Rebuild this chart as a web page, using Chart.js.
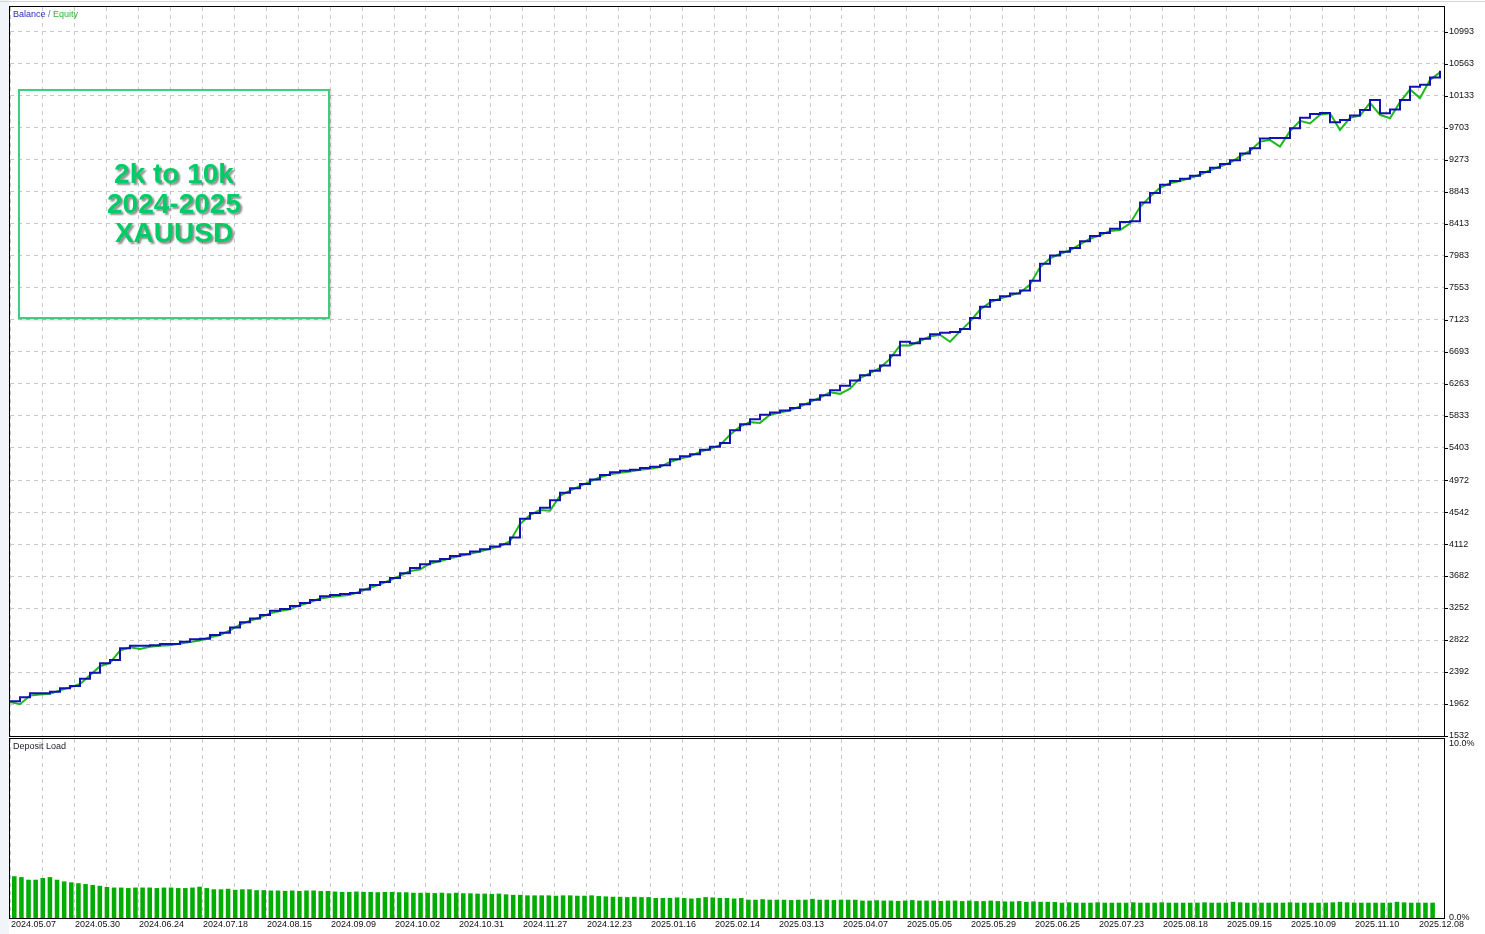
<!DOCTYPE html>
<html><head><meta charset="utf-8">
<script src="https://cdn.jsdelivr.net/npm/chart.js@4.4.1/dist/chart.umd.min.js"></script>
<style>
html,body{margin:0;padding:0;background:#fff;width:1485px;height:934px;overflow:hidden;font-family:"Liberation Sans",Arial,sans-serif;}
canvas{position:absolute;left:0;}
#c1{top:0;}
#c2{top:738px;}
.strip{position:absolute;left:0;top:0;width:9px;height:934px;background:#f1f4f8;}
.topline{position:absolute;left:0;top:1px;width:1485px;height:1px;background:#d4d4d4;}
.lbl{position:absolute;font-size:9px;line-height:11px;white-space:nowrap;}
#box{position:absolute;left:18px;top:89px;width:308px;height:226px;border:2px solid #3ccf80;box-shadow:1px 1px 2px rgba(0,0,0,.2);}
.t{position:absolute;left:0;width:100%;text-align:center;font:bold 28px "Liberation Sans",Arial,sans-serif;color:#00cc66;text-shadow:2px 2px 2px rgba(0,0,0,.45);line-height:29px;white-space:nowrap;}
</style></head>
<body>
<div class="strip"></div>
<div class="topline"></div>
<canvas id="c1" width="1485" height="738" style="width:1485px;height:738px"></canvas>
<canvas id="c2" width="1485" height="196" style="width:1485px;height:196px"></canvas>
<div class="lbl" style="left:13px;top:9px;"><span style="color:#2b2bc4">Balance</span><span style="color:#6a6a9a"> / </span><span style="color:#2cb42c">Equity</span></div>
<div class="lbl" style="left:13px;top:741px;color:#1a1a2e;">Deposit Load</div>
<div id="box">
  <div class="t" style="top:68px;">2k to 10k</div>
  <div class="t" style="top:98px;">2024-2025</div>
  <div class="t" style="top:127px;">XAUUSD</div>
</div>
<script>
const dateLabels = ['2024.05.07','2024.05.30','2024.06.24','2024.07.18','2024.08.15','2024.09.09','2024.10.02','2024.10.31','2024.11.27','2024.12.23','2025.01.16','2025.02.14','2025.03.13','2025.04.07','2025.05.05','2025.05.29','2025.06.25','2025.07.23','2025.08.18','2025.09.15','2025.10.09','2025.11.10','2025.12.08'];
const balanceTicks = [1532,1962,2392,2822,3252,3682,4112,4542,4972,5403,5833,6263,6693,7123,7553,7983,8413,8843,9273,9703,10133,10563,10993];
const loadTicks = [0, 10];

const balance = [
2000,2052,2106,2106,2127,2173,2204,2300,2383,2509,
2553,2711,2746,2746,2750,2768,2768,2799,2832,2840,
2889,2920,2990,3060,3110,3158,3216,3240,3279,3320,
3360,3410,3427,3440,3454,3500,3560,3600,3655,3720,
3790,3840,3880,3910,3950,3975,4010,4040,4080,4110,
4200,4450,4530,4600,4700,4800,4860,4920,4980,5040,
5075,5095,5110,5135,5150,5170,5250,5290,5320,5380,
5420,5470,5640,5720,5790,5850,5880,5905,5940,5990,
6050,6110,6180,6240,6310,6380,6440,6510,6650,6830,
6810,6870,6930,6950,6960,7000,7150,7300,7390,7440,
7480,7520,7650,7880,7990,8040,8090,8180,8250,8290,
8350,8440,8450,8700,8830,8940,8990,9020,9060,9110,
9170,9220,9270,9360,9430,9560,9570,9570,9700,9840,
9890,9905,9780,9810,9870,9945,10079,9900,9950,10079,
10258,10285,10380,10473];

const equity = [
1990,1960,2075,2090,2100,2145,2185,2230,2350,2470,
2515,2680,2725,2700,2730,2745,2750,2775,2795,2815,
2860,2890,2950,3030,3080,3125,3180,3210,3235,3290,
3330,3380,3400,3415,3430,3470,3525,3570,3625,3685,
3750,3770,3850,3880,3920,3950,3980,4010,4050,4080,
4150,4380,4500,4570,4560,4760,4830,4890,4950,5010,
5050,5070,5085,5110,5125,5145,5215,5260,5290,5350,
5390,5440,5580,5690,5750,5740,5850,5880,5910,5960,
6020,6080,6150,6130,6200,6340,6410,6480,6600,6780,
6780,6840,6900,6925,6830,6970,7100,7260,7360,7410,
7450,7490,7600,7830,7950,8010,8060,8140,8215,8260,
8320,8330,8420,8640,8780,8900,8960,8990,9030,9075,
9135,9185,9235,9320,9395,9520,9540,9452,9660,9800,
9764,9880,9900,9676,9840,9870,10040,9880,9833,10050,
10220,10105,10350,10450];

const depositLoad = [
2.4,2.35,2.2,2.2,2.3,2.35,2.2,2.1,2.05,2.0,1.95,1.9,1.85,1.78,
1.75,1.75,1.72,1.75,1.75,1.75,1.72,1.75,1.75,1.72,1.72,1.75,1.8,1.72,
1.65,1.65,1.68,1.62,1.65,1.65,1.6,1.6,
1.58,1.58,1.56,1.58,1.55,1.58,1.58,1.55,1.55,1.52,
1.5,1.5,1.52,1.5,1.5,1.48,1.5,1.5,1.48,1.48,
1.45,1.45,1.45,1.43,1.45,1.42,1.45,1.42,1.42,
1.4,1.4,1.38,1.4,1.36,
1.33,1.33,1.3,1.3,1.3,1.3,1.28,1.3,1.3,1.28,1.28,1.3,1.26,
1.24,1.22,1.22,1.2,1.22,1.2,1.2,
1.15,1.15,1.15,1.18,1.15,1.12,1.15,1.2,1.18,1.15,1.15,1.12,1.15,
1.05,1.05,1.08,1.05,1.05,1.05,1.03,1.05,1.05,1.1,1.05,1.05,1.03,1.05,1.05,1.05,
1.0,1.0,1.02,1.0,1.0,0.98,1.0,1.03,1.0,1.0,1.0,0.98,1.0,1.0,0.97,1.0,0.97,0.97,1.0,0.97,
0.95,0.95,0.97,0.93,0.95,0.93,0.93,0.92,
0.88,0.9,0.88,0.88,0.88,0.9,0.88,0.88,0.88,0.88,
0.9,0.88,0.88,0.88,0.9,0.88,0.88,0.88,0.88,0.88,
0.9,0.88,0.88,0.88,0.93,0.9,0.88,0.88,0.88,0.88,
0.88,0.88,0.9,0.88,0.88,0.88,0.88,0.88,0.9,0.93,
0.9,0.88,0.88,0.88,0.88,0.88,0.88,0.93,0.9,0.88,
0.88,0.88,0.88];

const FONT = {family:'"Liberation Sans", Arial, sans-serif', size:9};
const GRID_COLOR = '#c8c8c8';
const X_MAX = 143.4, X_STEP = 3.2;

const framePlugin = {
  id:'frame',
  afterDraw(chart, args, opts){
    const {ctx, chartArea:a} = chart;
    ctx.save();
    ctx.strokeStyle = '#000'; ctx.lineWidth = 1; ctx.setLineDash([]);
    ctx.strokeRect(Math.round(a.left)-0.5, Math.round(a.top)-0.5, Math.round(a.right-a.left)+1, Math.round(a.bottom-a.top)+1);
    if (opts.tickMarks) {
      const ys = chart.scales.y;
      ys.ticks.forEach(t => {
        const py = Math.round(ys.getPixelForValue(t.value)) + 0.5;
        ctx.beginPath(); ctx.moveTo(a.right, py); ctx.lineTo(a.right + 4, py); ctx.stroke();
      });
    }
    if (opts.dateLabels) {
      const xs = chart.scales.xg;
      ctx.fillStyle = '#111';
      ctx.font = '9px "Liberation Sans", Arial, sans-serif';
      ctx.textAlign = 'left'; ctx.textBaseline = 'middle';
      xs.ticks.forEach((t, i) => {
        if (i % 2 !== 0) return;
        const px = xs.getPixelForValue(t.value);
        ctx.fillText(dateLabels[i/2], Math.round(px) + 1, a.bottom + 7);
      });
    }
    ctx.restore();
  }
};

function gridX(labelSpace){
  return {
    type:'linear', min:0, max:X_MAX, position:'bottom', offset:false,
    afterBuildTicks: s => { s.ticks = []; for (let k = 0; k < dateLabels.length*2-1; k++) s.ticks.push({value:k*X_STEP}); },
    afterFit: s => { s.height = labelSpace; s.paddingLeft = 0; s.paddingRight = 0; },
    grid:{color:GRID_COLOR, lineWidth:1, drawTicks:false, offset:false},
    border:{display:false, dash:[4,4]},
    ticks:{display:false}
  };
}

new Chart(document.getElementById('c1'), {
  type:'line',
  data:{datasets:[
    {label:'Balance', data: balance.map((v,i)=>({x:i,y:v})), borderColor:'#1212b0', borderWidth:2, pointRadius:0, stepped:'before', order:0},
    {label:'Equity', data: equity.map((v,i)=>({x:i,y:v})), borderColor:'#1fb81f', borderWidth:2, pointRadius:0, tension:0, order:1}
  ]},
  options:{
    responsive:false, animation:false, devicePixelRatio:1, events:[],
    layout:{padding:{left:10, top:7, right:0, bottom:2}},
    plugins:{legend:{display:false}, tooltip:{enabled:false}, frame:{tickMarks:true, dateLabels:false}},
    scales:{
      x: gridX(0),
      y: {type:'linear', position:'right', min:1532, max:11328.8,
        afterBuildTicks: s => { s.ticks = balanceTicks.map(v=>({value:v})); },
        afterFit: s => { s.width = 41; s.paddingTop = 0; s.paddingBottom = 0; },
        grid:{color:GRID_COLOR, drawTicks:false}, border:{display:false, dash:[4,4]},
        ticks:{padding:5, color:'#111', font:FONT, callback: v => String(v)}}
    }
  },
  plugins:[framePlugin]
});

new Chart(document.getElementById('c2'), {
  type:'bar',
  data:{datasets:[
    {label:'Deposit Load', data: depositLoad.map((v,i)=>({x:i,y:v})), backgroundColor:'#00ad00', borderWidth:0, barPercentage:0.64, categoryPercentage:1, xAxisID:'xb', yAxisID:'y'}
  ]},
  options:{
    responsive:false, animation:false, devicePixelRatio:1, events:[],
    layout:{padding:{left:10, top:1, right:0, bottom:0}},
    plugins:{legend:{display:false}, tooltip:{enabled:false}, frame:{tickMarks:false, dateLabels:true}},
    scales:{
      xb: {type:'linear', display:false, offset:false, min:-0.6, max:200.6, grid:{offset:false}},
      xg: gridX(16),
      y: {type:'linear', position:'right', min:0, max:10.287,
        afterBuildTicks: s => { s.ticks = loadTicks.map(v=>({value:v})); },
        afterFit: s => { s.width = 41; s.paddingTop = 0; s.paddingBottom = 0; },
        grid:{display:false, drawTicks:false}, border:{display:false},
        ticks:{padding:5, color:'#111', font:FONT, callback: v => v.toFixed(1) + '%'}}
    }
  },
  plugins:[framePlugin]
});
</script>
</body></html>
